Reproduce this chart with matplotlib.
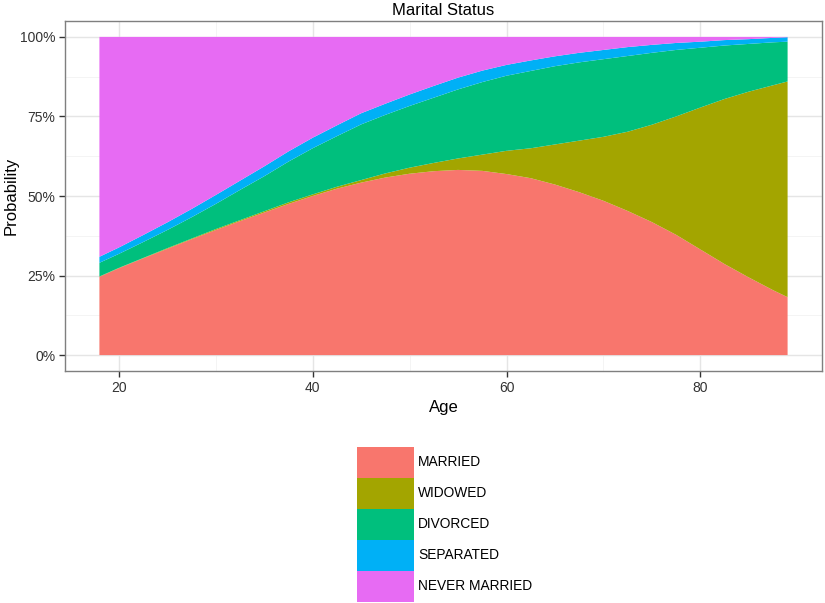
import matplotlib.pyplot as plt
from matplotlib.patches import Patch

plt.rcParams['font.family'] = ['Liberation Sans', 'DejaVu Sans']

# values (percent, per age)
ages = [18, 20, 22.5, 25, 27.5, 30, 32.5, 35, 37.5, 40, 42.5, 45, 47.5, 50, 52.5,
        55, 57.5, 60, 62.5, 65, 67.5, 70, 72.5, 75, 77.5, 80, 82.5, 85, 87.5, 89]
married = [24.6, 27.3, 30.4, 33.4, 36.4, 39.3, 42.1, 44.8, 47.5, 50.0, 52.3, 54.2, 55.8, 57.0, 57.8,
           58.2, 57.9, 56.9, 55.6, 53.6, 51.2, 48.5, 45.3, 41.8, 37.8, 33.2, 28.6, 24.4, 20.4, 18.2]
widowed = [0.1, 0.1, 0.1, 0.2, 0.2, 0.3, 0.3, 0.4, 0.5, 0.5, 0.6, 0.8, 1.3, 1.9, 2.6,
           3.6, 5.1, 7.3, 9.4, 12.6, 16.2, 20.1, 24.9, 30.6, 37.2, 44.6, 51.9, 58.4, 64.4, 67.8]
divorced = [4.3, 4.4, 5.0, 5.7, 6.7, 7.9, 9.5, 11.0, 12.8, 14.5, 15.9, 17.5, 18.4, 19.4, 20.5,
            21.7, 22.8, 23.6, 24.3, 24.6, 24.6, 24.4, 23.8, 22.6, 20.9, 18.8, 16.8, 15.0, 13.5, 12.5]
separated = [1.9, 2.0, 2.2, 2.4, 2.6, 2.8, 2.9, 3.1, 3.2, 3.3, 3.4, 3.5, 3.5, 3.6, 3.7,
             3.7, 3.6, 3.4, 3.3, 3.1, 3.0, 2.9, 2.8, 2.5, 2.2, 1.9, 1.7, 1.5, 1.4, 1.4]
never_married = [69.1, 66.2, 62.3, 58.3, 54.1, 49.7, 45.2, 40.7, 36.0, 31.7, 27.8, 24.0, 21.0, 18.1, 15.4,
                 12.8, 10.6, 8.8, 7.4, 6.1, 5.0, 4.1, 3.2, 2.5, 1.9, 1.5, 1.0, 0.7, 0.3, 0.1]

labels = ['MARRIED', 'WIDOWED', 'DIVORCED', 'SEPARATED', 'NEVER MARRIED']
colors = ['#F8766D', '#A3A500', '#00BF7D', '#00B0F6', '#E76BF3']
y_ticks = [0, 25, 50, 75, 100]
y_labels = ['0%', '25%', '50%', '75%', '100%']
x_ticks = [20, 40, 60, 80]

fig = plt.figure(figsize=(8.25, 6.03), dpi=100)
ax = fig.add_axes([65/825, 1 - 371/603, 757/825, 350/603])

ax.stackplot(ages, married, widowed, divorced, separated, never_married,
             colors=colors, linewidth=0, zorder=2)

ax.set_xlim(14.45, 92.55)
ax.set_ylim(-5, 105)
ax.set_xticks(x_ticks)
ax.set_xticks([30, 50, 70], minor=True)
ax.set_yticks(y_ticks)
ax.set_yticklabels(y_labels)
ax.set_yticks([12.5, 37.5, 62.5, 87.5], minor=True)
ax.grid(True, which='major', color='#E5E5E5', linewidth=1, zorder=0)
ax.grid(True, which='minor', color='#F2F2F2', linewidth=0.6, zorder=0)
ax.set_axisbelow(True)
ax.tick_params(which='major', length=4, width=1, color='#333333',
               labelsize=10, labelcolor='#333333', pad=3)
ax.tick_params(which='minor', length=0)
for s in ax.spines.values():
    s.set_color('#7F7F7F')
    s.set_linewidth(1)

ax.set_title('Marital Status', fontsize=12, pad=4)
ax.set_xlabel('Age', fontsize=12, labelpad=4)
ax.set_ylabel('Probability', fontsize=12, labelpad=1)

handles = [Patch(facecolor=c, edgecolor='none') for c in colors]
fig.legend(handles, labels, loc='upper left',
           bbox_to_anchor=(357/825, 1 - 447/603), frameon=False,
           fontsize=9.9, handlelength=4.15, handleheight=3.09,
           labelspacing=0, handletextpad=0.3, borderpad=0, borderaxespad=0)

fig.savefig('out.png', dpi=100)
